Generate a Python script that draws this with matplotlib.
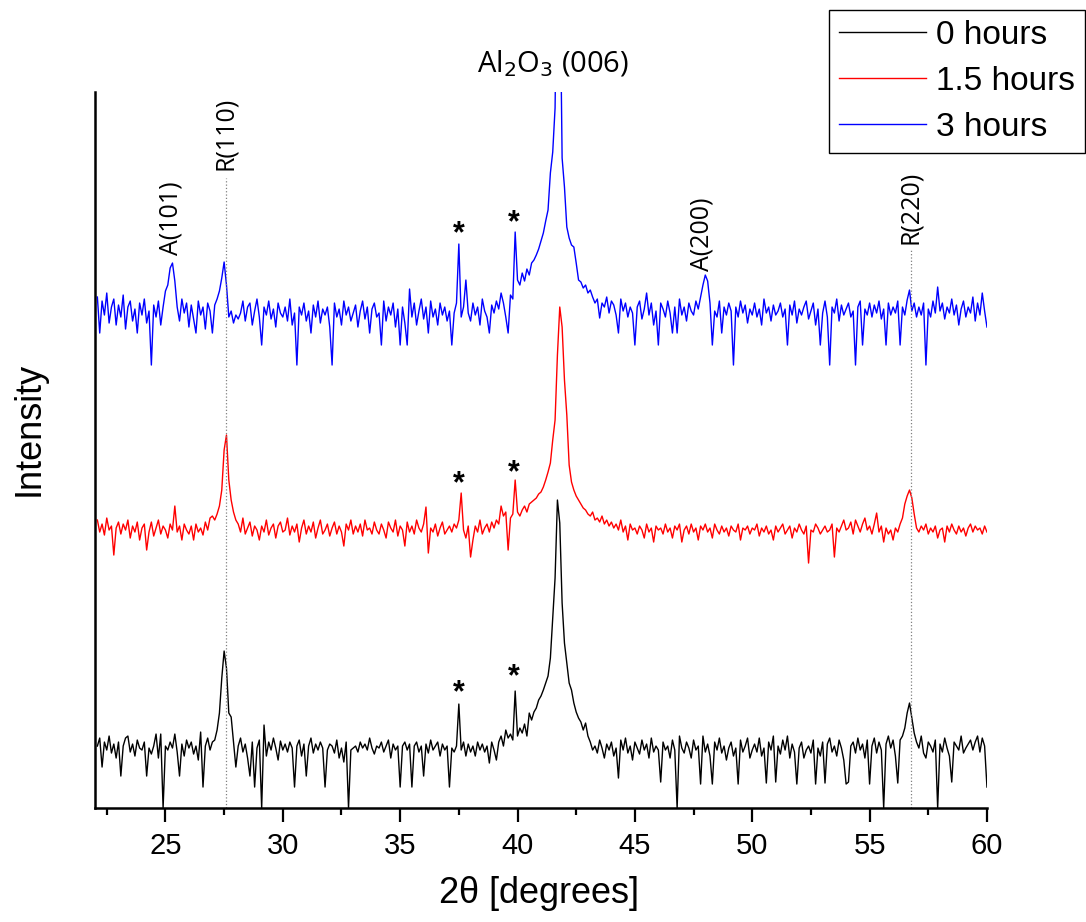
import matplotlib
matplotlib.use("Agg")
import matplotlib.pyplot as plt
import numpy as np

plt.rcParams['font.family'] = ['Liberation Sans', 'DejaVu Sans']

# 2theta grid, 0.1 deg steps from 22.1 to 60.0
two_theta = np.arange(221, 601) / 10.0

# intensities (arb. units), one row per degree
int_0h = [
    62, 70, 41, 66, 58, 72, 55, 64, 50, 66,
    32, 62, 70, 72, 56, 64, 52, 68, 60, 58,
    66, 32, 60, 54, 62, 74, 50, 74, 0, 62,
    58, 66, 60, 74, 56, 32, 64, 52, 68, 60,
    66, 54, 62, 48, 76, 21, 62, 70, 58, 66,
    68, 78, 95, 130, 157, 140, 95, 91, 66, 41,
    62, 70, 56, 64, 50, 32, 66, 21, 60, 68,
    0, 83, 52, 66, 58, 70, 60, 48, 67, 58,
    64, 56, 66, 60, 21, 62, 68, 52, 64, 32,
    62, 70, 55, 64, 58, 66, 60, 21, 58, 64,
    62, 55, 68, 50, 60, 46, 66, 0, 58, 60,
    62, 56, 66, 60, 64, 58, 70, 60, 54, 62,
    60, 66, 56, 62, 68, 50, 64, 58, 62, 21,
    62, 66, 58, 64, 21, 62, 66, 56, 62, 32,
    64, 55, 68, 58, 62, 66, 52, 64, 58, 62,
    21, 60, 56, 62, 104, 58, 66, 52, 64, 56,
    62, 52, 66, 58, 64, 56, 62, 45, 66, 58,
    48, 66, 72, 62, 78, 70, 74, 68, 117, 72,
    80, 75, 84, 72, 95, 88, 96, 100, 108, 112,
    118, 125, 132, 150, 190, 230, 308, 285, 205, 165,
    145, 125, 118, 105, 96, 90, 86, 78, 85, 72,
    66, 58, 62, 55, 68, 60, 50, 64, 58, 66,
    52, 60, 30, 68, 58, 70, 55, 62, 48, 66,
    60, 54, 68, 58, 64, 50, 70, 56, 62, 58,
    26, 66, 58, 62, 50, 68, 58, 0, 72, 60,
    55, 66, 60, 50, 68, 58, 62, 24, 72, 56,
    64, 52, 24, 66, 58, 70, 55, 62, 48, 60,
    66, 52, 60, 24, 68, 56, 62, 70, 50, 58,
    64, 56, 70, 52, 60, 25, 66, 58, 72, 26,
    62, 54, 68, 58, 72, 50, 64, 56, 24, 60,
    66, 50, 58, 62, 55, 68, 24, 60, 52, 66,
    25, 64, 70, 56, 62, 52, 68, 60, 48, 24,
    26, 62, 66, 55, 70, 58, 64, 50, 68, 24,
    62, 70, 55, 66, 58, 0, 64, 72, 60, 68,
    52, 25, 68, 72, 80, 95, 105, 90, 75, 66,
    60, 72, 55, 50, 66, 62, 56, 68, 0, 64,
    56, 70, 60, 52, 26, 66, 62, 58, 72, 55,
    60, 64, 68, 58, 66, 72, 56, 70, 62, 21,
]

int_1_5h = [
    70, 58, 66, 55, 72, 60, 64, 35, 62, 68,
    56, 66, 60, 70, 52, 64, 58, 68, 50, 62,
    66, 40, 58, 68, 54, 62, 70, 56, 64, 60,
    52, 66, 60, 84, 58, 64, 50, 66, 60, 56,
    64, 50, 66, 58, 62, 55, 68, 60, 72, 74,
    70, 76, 84, 100, 140, 155, 110, 90, 78, 70,
    66, 58, 72, 56, 62, 68, 54, 64, 60, 50,
    64, 58, 70, 55, 62, 66, 52, 64, 68, 58,
    60, 72, 55, 64, 58, 66, 48, 62, 70, 56,
    64, 58, 68, 52, 62, 70, 56, 60, 66, 54,
    62, 68, 56, 64, 58, 44, 66, 60, 70, 56,
    64, 58, 66, 54, 70, 60, 62, 56, 68, 60,
    56, 66, 60, 52, 68, 62, 58, 70, 54, 64,
    60, 44, 68, 58, 64, 56, 70, 62, 58, 66,
    83, 37, 62, 58, 66, 54, 62, 68, 56, 60,
    64, 58, 66, 62, 70, 97, 60, 52, 64, 33,
    50, 64, 58, 70, 56, 62, 66, 58, 68, 62,
    70, 66, 84, 74, 78, 40, 72, 76, 110, 78,
    74, 80, 84, 78, 86, 88, 90, 92, 96, 98,
    103, 110, 118, 127, 150, 170, 235, 283, 263, 210,
    175, 125, 108, 100, 94, 90, 86, 82, 80, 76,
    74, 78, 70, 72, 68, 74, 66, 70, 64, 68,
    62, 66, 60, 70, 58, 64, 50, 66, 60, 62,
    56, 64, 60, 52, 66, 58, 62, 48, 64, 60,
    62, 56, 66, 58, 62, 52, 64, 60, 66, 48,
    60, 64, 56, 66, 58, 62, 50, 64, 60, 66,
    58, 62, 52, 66, 60, 56, 64, 58, 62, 54,
    64, 60, 58, 66, 50, 62, 60, 64, 56, 62,
    60, 66, 54, 62, 58, 64, 56, 60, 50, 64,
    58, 62, 66, 56, 60, 64, 52, 62, 58, 66,
    60, 56, 64, 27, 60, 58, 66, 62, 56, 60,
    64, 58, 60, 66, 33, 62, 58, 64, 70, 60,
    62, 68, 56, 70, 64, 58, 66, 72, 60, 64,
    56, 66, 77, 58, 64, 48, 62, 56, 60, 50,
    62, 58, 66, 72, 86, 94, 100, 92, 76, 62,
    58, 64, 60, 66, 56, 62, 58, 64, 52, 60,
    62, 48, 64, 58, 66, 60, 56, 64, 58, 62,
    54, 62, 66, 58, 64, 60, 62, 56, 64, 58,
]

int_3h = [
    76, 40, 72, 58, 80, 50, 66, 74, 48, 68,
    56, 78, 44, 66, 72, 52, 64, 40, 70, 58,
    74, 50, 62, 8, 68, 56, 72, 48, 66, 82,
    88, 105, 110, 92, 66, 52, 74, 60, 70, 46,
    68, 54, 40, 72, 58, 66, 44, 70, 62, 40,
    68, 74, 82, 95, 111, 88, 56, 62, 50, 58,
    54, 60, 72, 52, 66, 70, 48, 62, 74, 56,
    28, 66, 58, 72, 54, 64, 46, 70, 60, 56,
    66, 52, 74, 48, 60, 8, 66, 58, 70, 52,
    62, 40, 68, 56, 72, 50, 64, 58, 66, 46,
    8, 70, 56, 64, 48, 72, 58, 66, 52, 60,
    68, 46, 62, 72, 54, 66, 40, 64, 70, 56,
    60, 28, 72, 52, 66, 58, 70, 46, 64, 28,
    66, 50, 28, 84, 56, 70, 48, 62, 74, 54,
    66, 40, 72, 56, 64, 48, 70, 58, 66, 52,
    62, 28, 60, 70, 129, 56, 66, 93, 60, 52,
    70, 58, 66, 48, 74, 62, 56, 40, 68, 60,
    72, 64, 80, 70, 56, 40, 78, 74, 141, 93,
    88, 100, 92, 104, 98, 110, 113, 118, 124, 132,
    140, 152, 163, 200, 221, 265, 450, 420, 215, 186,
    146, 135, 128, 126, 110, 93, 91, 85, 88, 80,
    83, 76, 70, 74, 55, 70, 66, 76, 60, 72,
    68, 58, 40, 74, 62, 70, 56, 66, 60, 28,
    66, 72, 54, 64, 80, 58, 70, 48, 62, 28,
    70, 64, 56, 72, 60, 40, 66, 40, 74, 58,
    66, 52, 70, 62, 58, 72, 64, 76, 88, 98,
    92, 70, 28, 62, 56, 72, 40, 66, 58, 70,
    62, 8, 66, 56, 72, 60, 68, 50, 64, 58,
    70, 56, 64, 48, 74, 60, 66, 52, 68, 58,
    62, 70, 56, 64, 28, 68, 58, 72, 50, 64,
    58, 66, 72, 54, 62, 70, 48, 64, 28, 60,
    72, 56, 8, 66, 60, 74, 52, 68, 58, 64,
    70, 56, 62, 8, 66, 72, 28, 64, 58, 70,
    56, 68, 60, 72, 54, 64, 28, 70, 58, 66,
    60, 72, 28, 66, 58, 73, 83, 62, 70, 56,
    66, 58, 70, 8, 64, 56, 72, 60, 86, 62,
    70, 54, 66, 60, 74, 58, 68, 48, 64, 72,
    56, 66, 60, 76, 52, 70, 58, 80, 62, 46,
]

labels = ['0 hours', '1.5 hours', '3 hours']
colors = ['black', 'red', 'blue']
offsets = [0, 218, 435]

# peak markers
peak_names = ['A(101)', 'R(110)', 'A(200)', 'R(220)']
peak_pos = [25.22, 27.56, 47.85, 56.75]
peak_text_y = [590, 675, 574, 601]
ref_lines = [27.56, 56.75]
ref_line_top = [630, 558]
star_pos = [37.48, 39.85]
star_y = [[115, 131], [324, 335], [574, 585]]

fig = plt.figure(figsize=(10.86, 9.22), dpi=100)
ax = fig.add_axes([0.0875, 0.1236, 0.8213, 0.7766])

series = [int_0h, int_1_5h, int_3h]
for vals, lab, col, off in zip(series, labels, colors, offsets):
    ax.plot(two_theta, np.array(vals) + off, color=col, lw=1.0, label=lab)

for xl, top in zip(ref_lines, ref_line_top):
    ax.plot([xl, xl], [0, top], color='gray', ls=':', lw=0.9)

for name, xp, yp in zip(peak_names, peak_pos, peak_text_y):
    ax.text(xp, yp, name, rotation=90, ha='center', va='center',
            fontsize=18, family=['Open Sans', 'DejaVu Sans'])

for ys in star_y:
    for xp, yp in zip(star_pos, ys):
        ax.text(xp, yp, '*', ha='center', va='center', fontsize=22,
                fontweight='bold', family=['Liberation Sans'])

ax.text(41.5, 744, r'Al$_2$O$_3$ (006)', ha='center', va='center',
        fontsize=21, family=['Open Sans', 'DejaVu Sans'], clip_on=False)

ax.set_xlim(22, 60)
ax.set_ylim(0, 716)
ax.set_yticks([])
ax.set_xticks(np.arange(25, 61, 5))
ax.set_xticks(np.arange(22.5, 60, 5), minor=True)
ax.tick_params(axis='x', which='major', direction='out', length=10,
               width=1.6, labelsize=21, pad=7)
ax.tick_params(axis='x', which='minor', direction='out', length=5, width=1.6)
for s in ['top', 'right']:
    ax.spines[s].set_visible(False)
for s in ['left', 'bottom']:
    ax.spines[s].set_linewidth(1.8)

ax.set_xlabel(r'2$\mathregular{\theta}$ [degrees]', fontsize=26)
ax.set_ylabel('Intensity', fontsize=26)
ax.xaxis.set_label_coords(0.497, -0.092)
ax.yaxis.set_label_coords(-0.054, 0.53)

leg = fig.legend(loc='upper right', bbox_to_anchor=(0.999, 0.989), fontsize=24,
                 handlelength=2.6, handletextpad=0.3, labelspacing=0.45,
                 borderpad=0.3, borderaxespad=0, fancybox=False,
                 framealpha=1, edgecolor='black')
leg.get_frame().set_linewidth(1.0)

fig.savefig('out.png', dpi=100)
